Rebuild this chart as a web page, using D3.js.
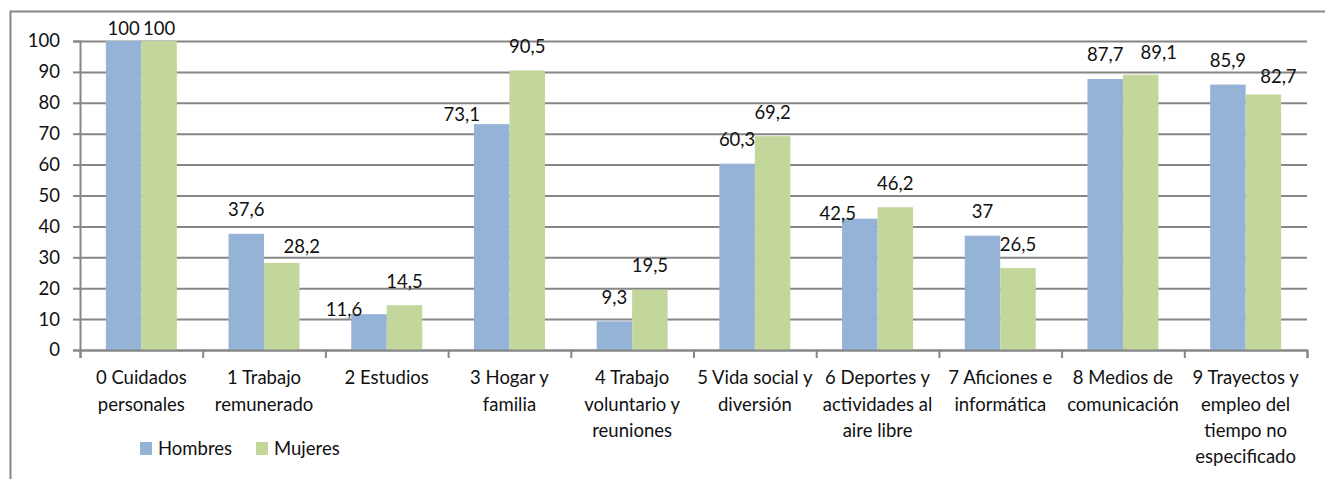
<!DOCTYPE html>
<html>
<head>
<meta charset="utf-8">
<script src="https://cdn.jsdelivr.net/npm/d3@7"></script>
<style>
  body { margin: 0; background: #fff; }
  svg text { font-family: Lato, "Open Sans", sans-serif; fill: #111; }
</style>
</head>
<body>
<div id="chart"></div>
<script>
  // data
  const categories = [
    ["0 Cuidados", "personales"],
    ["1 Trabajo", "remunerado"],
    ["2 Estudios"],
    ["3 Hogar y", "familia"],
    ["4 Trabajo", "voluntario y", "reuniones"],
    ["5 Vida social y", "diversión"],
    ["6 Deportes y", "actividades al", "aire libre"],
    ["7 Aficiones e", "informática"],
    ["8 Medios de", "comunicación"],
    ["9 Trayectos y", "empleo del", "tiempo no", "especificado"]
  ];
  const seriesNames = ["Hombres", "Mujeres"];
  const hombres = [100, 37.6, 11.6, 73.1, 9.3, 60.3, 42.5, 37, 87.7, 85.9];
  const mujeres = [100, 28.2, 14.5, 90.5, 19.5, 69.2, 46.2, 26.5, 89.1, 82.7];
  const yTicks = [0, 10, 20, 30, 40, 50, 60, 70, 80, 90, 100];

  // label nudges (px) where the original labels sit off-centre
  const nudgeH = [[0, 12], [0, 0], [-25, 19], [-30, 14], [0, 0], [0, 0], [-22, 19], [0, 0], [0, 0], [0, 0]];
  const nudgeM = [[0, 12], [20, 8], [0, 0], [0, 0], [0, 0], [0, 0], [0, 0], [0, 0], [18, 2], [15, 6]];

  const colors = ["#95B3D7", "#C3D69B"];
  const gridColor = "#868686";

  const W = 1325, H = 479;
  const margin = {top: 41, left: 80, right: 18, bottom: 129};
  const width = W - margin.left - margin.right;
  const height = H - margin.top - margin.bottom;

  const fmt = d3.formatLocale({decimal: ",", thousands: ".", grouping: [3], currency: ["", ""]}).format("~g");

  const svg = d3.select("#chart").append("svg")
    .attr("width", W)
    .attr("height", H);

  // outer chart border
  svg.append("rect")
    .attr("x", 10.5).attr("y", 11.5)
    .attr("width", W).attr("height", H)
    .attr("fill", "none")
    .attr("stroke", gridColor)
    .attr("stroke-width", 2);

  const g = svg.append("g")
    .attr("transform", `translate(${margin.left},${margin.top})`);

  const y = d3.scaleLinear().domain([0, 100]).range([height, 0]);
  const x = d3.scaleBand().domain(d3.range(categories.length)).range([0, width]);
  const xIdx = d3.scaleLinear().domain([0, categories.length]).range([0, width]);
  const barW = 35.5;
  const x1 = d3.scaleBand().domain([0, 1]).range([0, barW * 2]);

  // gridlines
  g.append("g")
    .call(d3.axisLeft(y).tickValues(yTicks).tickSize(-width).tickFormat(""))
    .call(s => s.select(".domain").remove())
    .call(s => s.selectAll("line").attr("stroke", gridColor).attr("stroke-width", 2));

  // y axis
  g.append("g")
    .call(d3.axisLeft(y).tickValues(yTicks).tickSize(7).tickPadding(13))
    .call(s => s.select(".domain").attr("stroke", gridColor).attr("stroke-width", 2))
    .call(s => s.selectAll("line").attr("stroke", gridColor).attr("stroke-width", 2))
    .call(s => s.selectAll("text").style("font-size", "18.5px").style("font-family", "Lato").attr("fill", "#111"));

  // bars
  const data = [hombres, mujeres];
  data.forEach(function(vals, si) {
    g.append("g").selectAll("rect")
      .data(vals)
      .enter().append("rect")
      .attr("x", (d, i) => x(i) + x.bandwidth() / 2 - barW + x1(si))
      .attr("y", d => y(d))
      .attr("width", x1.bandwidth())
      .attr("height", d => height - y(d))
      .attr("fill", colors[si]);
  });

  // x axis with ticks at category boundaries
  g.append("g")
    .attr("transform", `translate(0,${height})`)
    .call(d3.axisBottom(xIdx).tickValues(d3.range(categories.length + 1)).tickSize(8).tickFormat(""))
    .call(s => s.select(".domain").attr("stroke", gridColor).attr("stroke-width", 2))
    .call(s => s.selectAll("line").attr("stroke", gridColor).attr("stroke-width", 2));

  // data labels
  const nudges = [nudgeH, nudgeM];
  data.forEach(function(vals, si) {
    g.append("g").selectAll("text")
      .data(vals)
      .enter().append("text")
      .attr("x", (d, i) => x(i) + x.bandwidth() / 2 - barW + x1(si) + x1.bandwidth() / 2 + nudges[si][i][0])
      .attr("y", (d, i) => y(d) - 24 + nudges[si][i][1])
      .attr("dy", "0.35em")
      .attr("text-anchor", "middle")
      .style("font-size", "18.5px")
      .text(d => fmt(d));
  });

  // category labels
  const catG = g.append("g").attr("transform", `translate(0,${height})`);
  categories.forEach(function(lines, i) {
    const t = catG.append("text")
      .attr("x", x(i) + x.bandwidth() / 2)
      .attr("y", 28)
      .attr("dy", "0.35em")
      .attr("text-anchor", "middle")
      .style("font-size", "18.5px");
    lines.forEach(function(line, li) {
      t.append("tspan")
        .attr("x", x(i) + x.bandwidth() / 2)
        .attr("dy", li == 0 ? "0.35em" : "26.3")
        .text(line);
    });
  });

  // legend
  const legend = svg.append("g").attr("transform", "translate(140,442)");
  const legendX = [0, 116];
  seriesNames.forEach(function(name, si) {
    const item = legend.append("g").attr("transform", `translate(${legendX[si]},0)`);
    item.append("rect")
      .attr("width", 12).attr("height", 13)
      .attr("fill", colors[si]);
    item.append("text")
      .attr("x", 18).attr("y", 6.5)
      .attr("dy", "0.35em")
      .style("font-size", "18.5px")
      .text(name);
  });
</script>
</body>
</html>
